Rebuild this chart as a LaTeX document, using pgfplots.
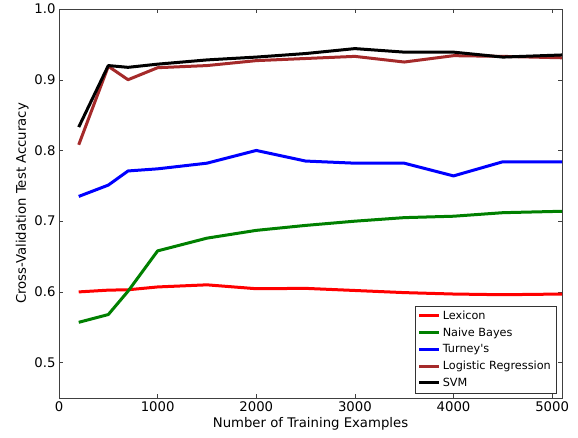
\documentclass[border=0pt]{standalone}
\usepackage{fontspec}
\setmainfont{DejaVu Sans}
\usepackage{pgfplots}
\pgfplotsset{compat=1.18}
\definecolor{mplgreen}{RGB}{0,128,0}
\definecolor{mplbrown}{RGB}{165,42,42}
\begin{document}
\begin{tikzpicture}
\begin{axis}[
  scale only axis,
  width=503bp, height=389bp,
  xmin=0, xmax=5100, ymin=0.45, ymax=1.0,
  xtick={0,1000,2000,3000,4000,5000},
  ytick={0.5,0.6,0.7,0.8,0.9,1.0},
  tick align=inside,
  major tick length=4bp,
  axis line style={black!75},
  every tick/.style={black!75},
  tick label style={font=\fontsize{13.3}{15}\selectfont},
  label style={font=\fontsize{13.3}{15}\selectfont},
  /pgf/number format/assume math mode=true,
  /pgf/number format/1000 sep={},
  yticklabel style={/pgf/number format/.cd,fixed,fixed zerofill,precision=1},
  xlabel={Number of Training Examples},
  ylabel={Cross-Validation Test Accuracy},
  xlabel style={yshift=1bp},
  ylabel style={yshift=-1bp},
  legend cell align=left,
  legend style={font=\fontsize{11.3}{13}\selectfont, draw=black!80, at={(0.988,0.013)}, anchor=south east, row sep=2.8bp, inner sep=3bp},
  legend image code/.code={\draw[#1, line width=3bp] (0bp,0bp) -- (20bp,0bp);},
  every axis plot/.append style={line width=3bp, line join=round},
]
\addplot[red] coordinates {(200,0.600) (500,0.6025) (700,0.603) (1000,0.607) (1500,0.610) (2000,0.6045) (2500,0.605) (3000,0.602) (3500,0.599) (4000,0.597) (4500,0.596) (5100,0.597)};
\addlegendentry{Lexicon}
\addplot[mplgreen] coordinates {(200,0.557) (500,0.568) (700,0.601) (1000,0.658) (1500,0.676) (2000,0.687) (2500,0.694) (3000,0.700) (3500,0.705) (4000,0.707) (4500,0.712) (5100,0.714)};
\addlegendentry{Naive Bayes}
\addplot[blue] coordinates {(200,0.735) (500,0.751) (700,0.771) (1000,0.774) (1500,0.782) (2000,0.800) (2500,0.785) (3000,0.782) (3500,0.782) (4000,0.764) (4500,0.784) (5100,0.784)};
\addlegendentry{Turney\textquotesingle s}
\addplot[mplbrown] coordinates {(200,0.808) (500,0.919) (700,0.900) (1000,0.917) (1500,0.920) (2000,0.927) (2500,0.930) (3000,0.933) (3500,0.925) (4000,0.934) (4500,0.933) (5100,0.931)};
\addlegendentry{Logistic Regression}
\addplot[black] coordinates {(200,0.833) (500,0.920) (700,0.9175) (1000,0.922) (1500,0.928) (2000,0.932) (2500,0.937) (3000,0.944) (3500,0.939) (4000,0.939) (4500,0.932) (5100,0.935)};
\addlegendentry{SVM}
\end{axis}
\path (current axis.south west) ++(-59bp,-40bp) coordinate (bbA);
\path (current axis.north east) ++(16bp,9bp) coordinate (bbB);
\path (bbA) (bbB);
\end{tikzpicture}
\end{document}
